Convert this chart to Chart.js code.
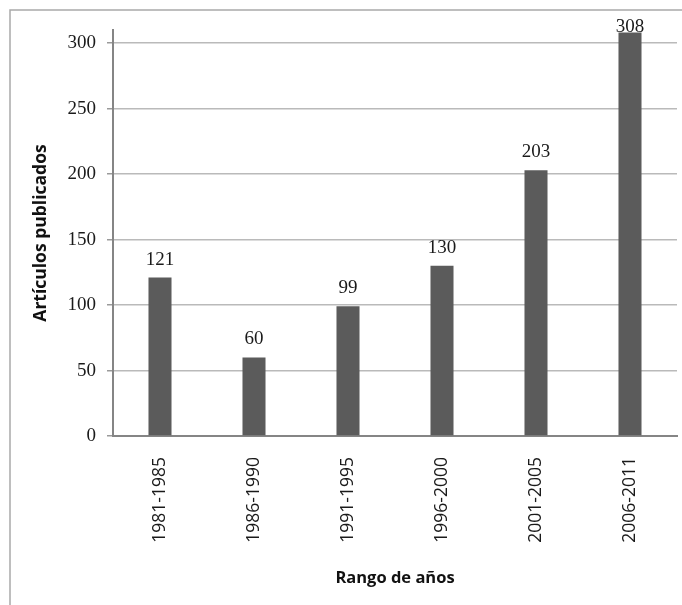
<!DOCTYPE html>
<html>
<head>
<meta charset="utf-8">
<script src="https://cdn.jsdelivr.net/npm/chart.js@4/dist/chart.umd.min.js"></script>
<style>
  html, body { margin: 0; padding: 0; background: #fff; overflow: hidden; }
  canvas { display: block; }
</style>
</head>
<body>
<canvas id="c" width="682" height="605"></canvas>
<script>
// Publications per five-year period
const categories = ['1981-1985', '1986-1990', '1991-1995', '1996-2000', '2001-2005', '2006-2011'];
const articles = [121, 60, 99, 130, 203, 308];
const yTicks = [0, 50, 100, 150, 200, 250, 300];

const serif = '"Liberation Serif", "DejaVu Serif", serif';
const sans = '"Open Sans", Lato, sans-serif';

// Thin outer frame (open on the right and bottom edges of the canvas)
const outerFrame = {
  id: 'outerFrame',
  beforeDraw(chart) {
    const ctx = chart.ctx;
    ctx.save();
    ctx.strokeStyle = '#a9a9a9';
    ctx.lineWidth = 1.5;
    ctx.beginPath();
    ctx.moveTo(10, chart.height + 5);
    ctx.lineTo(10, 10);
    ctx.lineTo(chart.width + 5, 10);
    ctx.stroke();
    ctx.restore();
  }
};

// Value labels above each bar
const valueLabels = {
  id: 'valueLabels',
  afterDatasetsDraw(chart) {
    const ctx = chart.ctx;
    const meta = chart.getDatasetMeta(0);
    const area = chart.chartArea;
    ctx.save();
    ctx.font = '19px ' + serif;
    ctx.fillStyle = '#1a1a1a';
    ctx.textAlign = 'center';
    ctx.textBaseline = 'alphabetic';
    meta.data.forEach((bar, i) => {
      let y = bar.y - 13;
      if (y < area.top + 2) y = area.top + 2;
      ctx.fillText(String(chart.data.datasets[0].data[i]), bar.x, y);
    });
    ctx.restore();
  }
};

new Chart(document.getElementById('c'), {
  type: 'bar',
  data: {
    labels: categories,
    datasets: [{
      data: articles,
      backgroundColor: '#5b5b5b',
      borderWidth: 0,
      barPercentage: 0.245,
      categoryPercentage: 1
    }]
  },
  options: {
    responsive: false,
    animation: false,
    layout: { padding: { top: 30, right: 5, left: 0, bottom: 0 } },
    plugins: { legend: { display: false }, tooltip: { enabled: false } },
    scales: {
      x: {
        grid: { display: false, drawTicks: false },
        border: { display: true, color: '#858585', width: 2 },
        ticks: {
          autoSkip: false,
          minRotation: 90,
          maxRotation: 90,
          padding: 21,
          color: '#1a1a1a',
          font: { family: sans, size: 17.5 }
        },
        title: {
          display: true,
          text: 'Rango de años',
          color: '#111',
          font: { family: sans, size: 16.5, weight: 'bold' },
          padding: { top: 0, bottom: 17 }
        },
        afterFit(scale) { scale.height = 169; }
      },
      y: {
        min: 0,
        max: 310,
        grid: {
          color: '#bababa',
          lineWidth: 1.5,
          drawTicks: true,
          tickLength: 6,
          tickColor: '#9a9a9a'
        },
        border: { display: true, color: '#858585', width: 2 },
        ticks: {
          padding: 11,
          color: '#1a1a1a',
          font: { family: serif, size: 19 }
        },
        afterBuildTicks(scale) {
          scale.ticks = yTicks.map(v => ({ value: v }));
        },
        title: {
          display: true,
          text: 'Artículos publicados',
          color: '#111',
          font: { family: sans, size: 17.5, weight: 'bold' },
          padding: { top: 31, bottom: 0 }
        },
        afterFit(scale) { scale.width = 113; }
      }
    }
  },
  plugins: [outerFrame, valueLabels]
});
</script>
</body>
</html>
